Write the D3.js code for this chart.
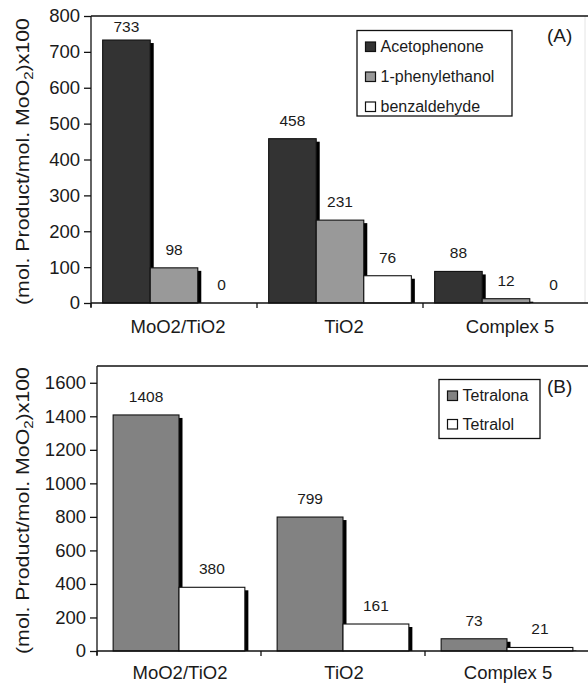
<!DOCTYPE html>
<html>
<head>
<meta charset="utf-8">
<script src="https://cdn.jsdelivr.net/npm/d3@7"></script>
<style>
  html, body { margin: 0; padding: 0; background: #fff; }
  svg text { font-family: "Liberation Sans", Arial, sans-serif; fill: #1a1a1a; }
</style>
</head>
<body>
<div id="chart"></div>
<script>
// data
var categories = ["MoO2/TiO2", "TiO2", "Complex 5"];

var seriesA = ["Acetophenone", "1-phenylethanol", "benzaldehyde"];
var acetophenone = [733, 458, 88];
var phenylethanol = [98, 231, 12];
var benzaldehyde = [0, 76, 0];
var ticksA = [0, 100, 200, 300, 400, 500, 600, 700, 800];

var seriesB = ["Tetralona", "Tetralol"];
var tetralona = [1408, 799, 73];
var tetralol = [380, 161, 21];
var ticksB = [0, 200, 400, 600, 800, 1000, 1200, 1400, 1600];

var W = 588, H = 684;

var svg = d3.select('#chart').append('svg')
  .attr('width', W)
  .attr('height', H);

function drawPanel(cfg) {
  var g = svg.append('g');

  var x0 = d3.scaleBand()
    .domain(categories)
    .range([cfg.left, cfg.right])
    .paddingInner(0)
    .paddingOuter(0);

  var x1 = d3.scaleBand()
    .domain(cfg.series)
    .range([0, x0.bandwidth()])
    .paddingInner(0)
    .paddingOuter(0.245);

  var y = d3.scaleLinear()
    .domain([0, cfg.max])
    .range([cfg.bottom, cfg.top]);

  // faint plot area border on the right
  if (cfg.rightBorder) {
    g.append('line')
      .attr('x1', cfg.right - 4).attr('x2', cfg.right - 4)
      .attr('y1', cfg.top).attr('y2', cfg.bottom)
      .attr('stroke', '#e4e4e4')
      .attr('stroke-width', 1);
  }

  // top border
  g.append('line')
    .attr('x1', cfg.left).attr('x2', W)
    .attr('y1', y(cfg.max)).attr('y2', y(cfg.max))
    .attr('stroke', '#111')
    .attr('stroke-width', 1.3);

  // bars, each with a black drop shadow on the right
  categories.forEach(function(cat, ci) {
    cfg.series.forEach(function(s, si) {
      var v = cfg.values[si][ci];
      var bx = x0(cat) + x1(s);
      var bw = x1.bandwidth();
      var by = y(v);
      var bh = y(0) - y(v);

      if (bh > 0) {
        g.append('rect')
          .attr('x', bx + 3.5)
          .attr('y', by + 3)
          .attr('width', bw)
          .attr('height', Math.max(0, bh - 3))
          .attr('fill', '#000');

        g.append('rect')
          .attr('x', bx)
          .attr('y', by)
          .attr('width', bw)
          .attr('height', bh)
          .attr('fill', cfg.colors[si])
          .attr('stroke', '#111')
          .attr('stroke-width', 1.1);
      }

      g.append('text')
        .attr('x', bx + bw / 2)
        .attr('y', Math.max(by - 13, cfg.top + 15.5))
        .attr('text-anchor', 'middle')
        .style('font-size', '15.5px')
        .text(v);
    });
  });

  // y axis
  var yAxis = d3.axisLeft(y)
    .tickValues(cfg.ticks)
    .tickFormat(d3.format('d'))
    .tickSize(7)
    .tickSizeOuter(0)
    .tickPadding(4);

  var ya = g.append('g')
    .attr('transform', 'translate(' + cfg.left + ',0)')
    .call(yAxis);
  ya.select('.domain').remove();
  ya.selectAll('line').attr('stroke', '#111').attr('stroke-width', 1.3);
  ya.selectAll('text')
    .style('font-size', '18.5px')
    .style('font-family', '"Liberation Sans", Arial, sans-serif')
    .attr('fill', '#1a1a1a');

  g.append('line')
    .attr('x1', cfg.left).attr('x2', cfg.left)
    .attr('y1', y(cfg.max)).attr('y2', y(0) + 4)
    .attr('stroke', '#111')
    .attr('stroke-width', 1.3);

  // x axis with category separators
  g.append('line')
    .attr('x1', cfg.left).attr('x2', W)
    .attr('y1', y(0)).attr('y2', y(0))
    .attr('stroke', '#111')
    .attr('stroke-width', 1.3);

  categories.forEach(function(cat) {
    g.append('line')
      .attr('x1', x0(cat)).attr('x2', x0(cat))
      .attr('y1', y(0)).attr('y2', y(0) + 5)
      .attr('stroke', '#111')
      .attr('stroke-width', 1.3);

    g.append('text')
      .attr('x', x0(cat) + x0.bandwidth() / 2 + cfg.labelDx)
      .attr('y', y(0) + cfg.labelGap)
      .attr('text-anchor', 'middle')
      .style('font-size', '18.5px')
      .text(cat);
  });

  // y title with MoO2 subscript
  var title = g.append('text')
    .attr('transform', 'translate(28.5,' + ((cfg.top + cfg.bottom) / 2 + 2) + ') rotate(-90)')
    .attr('text-anchor', 'middle')
    .attr('textLength', 287)
    .attr('lengthAdjust', 'spacingAndGlyphs')
    .style('font-size', '18.5px');
  title.append('tspan').text('(mol. Product/mol. MoO');
  title.append('tspan').attr('dy', 4).style('font-size', '13px').text('2');
  title.append('tspan').attr('dy', -4).text(')x100');

  // legend
  var lg = g.append('g');
  lg.append('rect')
    .attr('x', cfg.legend.x)
    .attr('y', cfg.legend.y)
    .attr('width', cfg.legend.w)
    .attr('height', cfg.legend.h)
    .attr('fill', '#fff')
    .attr('stroke', '#111')
    .attr('stroke-width', 1.3);

  cfg.series.forEach(function(s, si) {
    var cy = cfg.legend.y + cfg.legend.first + si * cfg.legend.step;
    lg.append('rect')
      .attr('x', cfg.legend.x + 8.5)
      .attr('y', cy - 4.5)
      .attr('width', 10)
      .attr('height', 9.5)
      .attr('fill', cfg.colors[si])
      .attr('stroke', '#111')
      .attr('stroke-width', 1.2);
    lg.append('text')
      .attr('x', cfg.legend.x + 23.5)
      .attr('y', cy + 5.5)
      .style('font-size', '16px')
      .text(s);
  });

  g.append('text')
    .attr('x', 547)
    .attr('y', cfg.tagY)
    .style('font-size', '19px')
    .text(cfg.tag);
}

drawPanel({
  left: 91, right: 589, top: 16, bottom: 303,
  max: 800, ticks: ticksA,
  series: seriesA,
  values: [acetophenone, phenylethanol, benzaldehyde],
  colors: ['#333333', '#999999', '#ffffff'],
  labelDx: 4, labelGap: 30,
  legend: { x: 357, y: 30.5, w: 155, h: 85.5, first: 16, step: 30 },
  tag: '(A)', tagY: 42,
  rightBorder: true
});

drawPanel({
  left: 97, right: 589, top: 366, bottom: 651,
  max: 1700, ticks: ticksB,
  series: seriesB,
  values: [tetralona, tetralol],
  colors: ['#828282', '#ffffff'],
  labelDx: 1, labelGap: 28,
  legend: { x: 439, y: 379.5, w: 101, h: 59, first: 16, step: 28.5 },
  tag: '(B)', tagY: 393,
  rightBorder: false
});
</script>
</body>
</html>
